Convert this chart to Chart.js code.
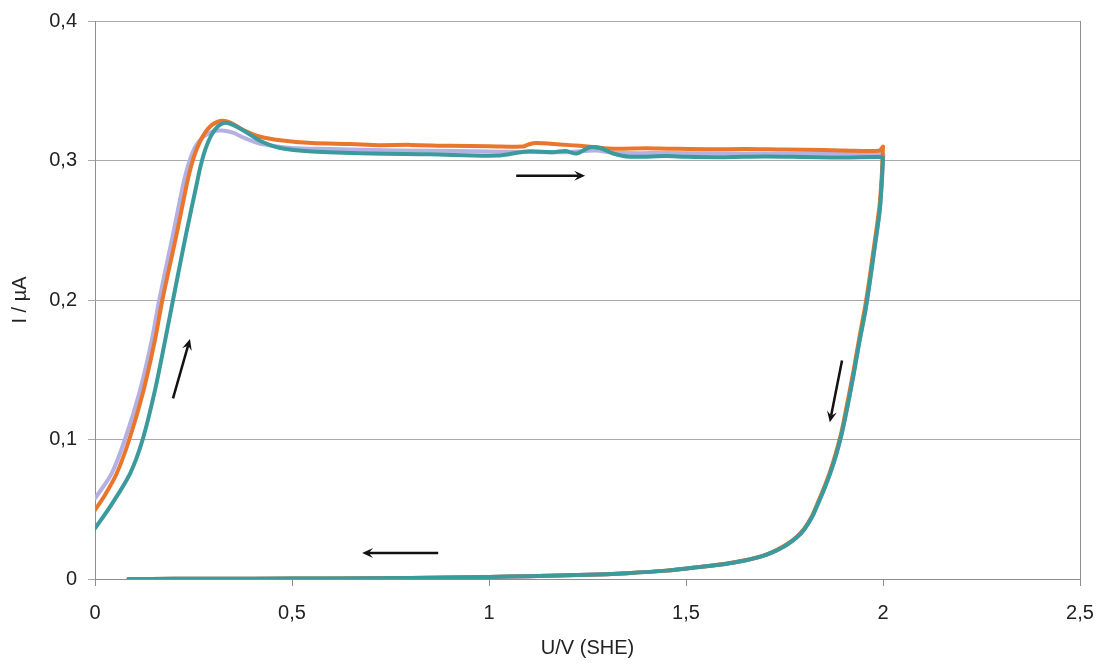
<!DOCTYPE html>
<html>
<head>
<meta charset="utf-8">
<script src="https://cdn.jsdelivr.net/npm/chart.js@4/dist/chart.umd.min.js"></script>
<style>
  html, body { margin: 0; padding: 0; background: #fff; }
  canvas { display: block; }
</style>
</head>
<body>
<canvas id="cvChart" width="1103" height="664"></canvas>
<script>
// Ticks
const xTickLabels = ['0', '0,5', '1', '1,5', '2', '2,5'];
const yTickLabels = ['0', '0,1', '0,2', '0,3', '0,4'];

// Forward scan (U in V, I in µA)
const uLavender = [0, 0.042, 0.076, 0.114, 0.144, 0.163, 0.198, 0.224, 0.238, 0.255, 0.275, 0.3, 0.322, 0.35, 0.38, 0.42, 0.5, 0.6, 0.7, 0.85, 1.0, 1.2, 1.27, 1.32, 1.45, 1.6, 1.8, 2.0];
const iLavender = [0.0577, 0.0756, 0.1, 0.135, 0.171, 0.2, 0.247, 0.283, 0.298, 0.31, 0.317, 0.3208, 0.3215, 0.32, 0.316, 0.312, 0.309, 0.3082, 0.3075, 0.307, 0.3065, 0.306, 0.3072, 0.3055, 0.3053, 0.305, 0.3048, 0.3045];

const uOrange = [0, 0.025, 0.055, 0.087, 0.123, 0.152, 0.171, 0.207, 0.233, 0.245, 0.258, 0.275, 0.297, 0.322, 0.345, 0.375, 0.42, 0.47, 0.55, 0.65, 0.72, 0.8, 0.9, 1.0, 1.086, 1.1, 1.12, 1.18, 1.23, 1.27, 1.315, 1.4, 1.45, 1.57, 1.65, 1.75, 1.85, 1.9, 1.99, 2.0];
const iOrange = [0.0494, 0.06, 0.0756, 0.1, 0.135, 0.171, 0.2, 0.247, 0.283, 0.297, 0.308, 0.318, 0.3255, 0.3285, 0.327, 0.322, 0.317, 0.3145, 0.3125, 0.3118, 0.311, 0.3112, 0.3105, 0.3103, 0.31, 0.3115, 0.3125, 0.3115, 0.3105, 0.3095, 0.3085, 0.3088, 0.3085, 0.308, 0.3083, 0.3078, 0.3076, 0.3072, 0.307, 0.31];

const uTeal = [0, 0.038, 0.089, 0.121, 0.152, 0.178, 0.198, 0.231, 0.258, 0.268, 0.28, 0.295, 0.312, 0.33, 0.35, 0.38, 0.42, 0.47, 0.55, 0.7, 0.85, 1.02, 1.095, 1.163, 1.195, 1.223, 1.256, 1.282, 1.315, 1.357, 1.45, 1.5, 1.6, 1.7, 1.8, 1.9, 1.99, 2.0];
const iTeal = [0.0363, 0.0517, 0.0756, 0.1, 0.135, 0.171, 0.2, 0.247, 0.283, 0.296, 0.308, 0.318, 0.3245, 0.327, 0.3255, 0.321, 0.314, 0.309, 0.3065, 0.305, 0.3045, 0.3035, 0.3065, 0.306, 0.3068, 0.305, 0.3095, 0.309, 0.305, 0.3027, 0.3032, 0.3027, 0.3024, 0.3028, 0.3025, 0.3022, 0.3025, 0.302];

// Reverse scan, 2 V back down to ~0.085 V
const uReverse = [2.0, 1.997, 1.992, 1.985, 1.975, 1.965, 1.955, 1.94, 1.925, 1.91, 1.895, 1.88, 1.865, 1.85, 1.835, 1.82, 1.8, 1.78, 1.755, 1.73, 1.705, 1.68, 1.65, 1.6, 1.535, 1.45, 1.35, 1.25, 1.1, 1.0, 0.8, 0.6, 0.4, 0.2, 0.085];
const iRevTeal = [0.302, 0.285, 0.265, 0.25, 0.23, 0.21, 0.192, 0.17, 0.146, 0.124, 0.104, 0.088, 0.075, 0.064, 0.054, 0.0445, 0.0355, 0.0295, 0.0243, 0.0205, 0.0175, 0.0153, 0.0133, 0.0108, 0.0086, 0.006, 0.0042, 0.003, 0.002, 0.0015, 0.0008, 0.0004, 0.0002, 0.0001, 0];
const iRevOrange = [0.31, 0.29, 0.27, 0.254, 0.234, 0.214, 0.196, 0.173, 0.149, 0.127, 0.106, 0.09, 0.0765, 0.0652, 0.055, 0.0453, 0.0361, 0.03, 0.0247, 0.0208, 0.0177, 0.0154, 0.0134, 0.0109, 0.0087, 0.006, 0.0042, 0.003, 0.002, 0.0015, 0.0008, 0.0004, 0.0002, 0.0001, 0];
const iRevLavender = iRevTeal;

// Scan direction arrows: [U from, I from, U to, I to]
const arrows = [
    [0.198, 0.1295, 0.241, 0.172],
    [1.069, 0.289, 1.244, 0.289],
    [1.896, 0.1567, 1.865, 0.1123],
    [0.871, 0.0186, 0.678, 0.0186]
];

const toPoints = (us, is) => us.map((u, k) => ({ x: u, y: is[k] }));
const scan = (uf, ifw, ir) => toPoints(uf, ifw).concat(toPoints(uReverse, ir));

const gridGray = '#a9a9a9';
const axisGray = '#8e8e8e';
const textColor = '#222';
const fontFamily = '"Liberation Sans", Arial, sans-serif';

const frame = {
    id: 'frame',
    afterDatasetsDraw(chart) {
        const { ctx, chartArea: a, scales } = chart;
        ctx.save();
        ctx.strokeStyle = axisGray;
        ctx.lineWidth = 1;
        ctx.beginPath();
        ctx.moveTo(a.right + 0.5, a.top);
        ctx.lineTo(a.right + 0.5, a.bottom);
        ctx.stroke();

        // arrows
        ctx.strokeStyle = '#111';
        ctx.fillStyle = '#111';
        ctx.lineWidth = 2.5;
        arrows.forEach(([u1, i1, u2, i2]) => {
            const x1 = scales.x.getPixelForValue(u1), y1 = scales.y.getPixelForValue(i1);
            const x2 = scales.x.getPixelForValue(u2), y2 = scales.y.getPixelForValue(i2);
            const ang = Math.atan2(y2 - y1, x2 - x1);
            const hl = 11, hw = 5;
            const c = Math.cos(ang), s = Math.sin(ang);
            ctx.beginPath();
            ctx.moveTo(x1, y1);
            ctx.lineTo(x2 - c * hl * 0.6, y2 - s * hl * 0.6);
            ctx.stroke();
            ctx.beginPath();
            ctx.moveTo(x2, y2);
            ctx.lineTo(x2 - c * hl - s * hw, y2 - s * hl + c * hw);
            ctx.lineTo(x2 - c * hl * 0.6, y2 - s * hl * 0.6);
            ctx.lineTo(x2 - c * hl + s * hw, y2 - s * hl - c * hw);
            ctx.closePath();
            ctx.fill();
        });
        ctx.restore();
    }
};

const ctx = document.getElementById('cvChart').getContext('2d');
const cvChart = new Chart(ctx, {
    type: 'scatter',
    data: {
        // first dataset ends up on top
        datasets: [
            {
                label: 'teal',
                data: scan(uTeal, iTeal, iRevTeal),
                borderColor: '#3a9a9c',
                borderWidth: 4
            },
            {
                label: 'orange',
                data: scan(uOrange, iOrange, iRevOrange),
                borderColor: '#e8762c',
                borderWidth: 4
            },
            {
                label: 'lavender',
                data: scan(uLavender, iLavender, iRevLavender),
                borderColor: '#b4b0e4',
                borderWidth: 4
            }
        ]
    },
    options: {
        responsive: false,
        animation: false,
        showLine: true,
        datasets: { scatter: { showLine: true } },
        elements: {
            point: { radius: 0 },
            line: { tension: 0.3, borderCapStyle: 'round', borderJoinStyle: 'round' }
        },
        layout: { padding: { top: 21, right: 23, left: 0, bottom: 0 } },
        plugins: {
            legend: { display: false },
            tooltip: { enabled: false }
        },
        scales: {
            x: {
                type: 'linear',
                min: 0,
                max: 2.5,
                afterFit: s => {
                    s.height = 85;
                    s.paddingLeft = 0;
                    s.paddingRight = 0;
                },
                ticks: {
                    stepSize: 0.5,
                    padding: 15,
                    color: textColor,
                    font: { family: fontFamily, size: 20 },
                    callback: (v, idx) => xTickLabels[idx]
                },
                grid: { drawOnChartArea: false, tickLength: 7, color: axisGray },
                border: { color: axisGray },
                title: {
                    display: true,
                    text: 'U/V (SHE)',
                    color: textColor,
                    font: { family: fontFamily, size: 20 },
                    padding: { top: 0, bottom: 4 }
                }
            },
            y: {
                type: 'linear',
                min: 0,
                max: 0.4,
                afterFit: s => {
                    s.width = 95;
                    s.paddingTop = 0;
                    s.paddingBottom = 0;
                },
                ticks: {
                    stepSize: 0.1,
                    padding: 11,
                    color: textColor,
                    font: { family: fontFamily, size: 20 },
                    callback: (v, idx) => yTickLabels[idx]
                },
                grid: { tickLength: 7, color: gridGray },
                border: { color: axisGray },
                title: {
                    display: true,
                    text: 'I / µA',
                    color: textColor,
                    font: { family: fontFamily, size: 20 },
                    padding: { top: 8, bottom: 0 }
                }
            }
        }
    },
    plugins: [frame]
});
</script>
</body>
</html>
